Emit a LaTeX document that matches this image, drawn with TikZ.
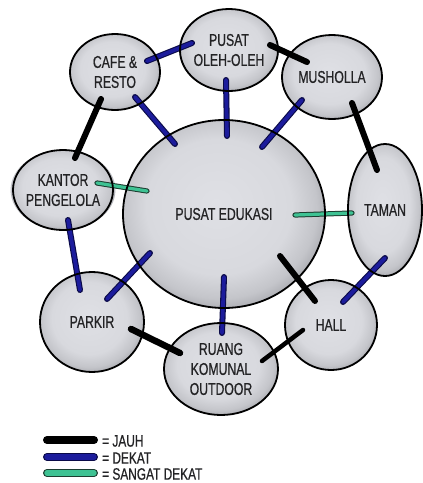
\documentclass[tikz,border=0pt]{standalone}
\usepackage{fontspec}
\setmainfont{Liberation Sans}[FakeStretch=0.72, FakeBold=0.6]
\usetikzlibrary{shapes.geometric}
\definecolor{bubA}{HTML}{DFE0E5}
\definecolor{bubB}{HTML}{D8D9DE}
\definecolor{bubC}{HTML}{C4C5CA}
\definecolor{bubD}{HTML}{9C9DA3}
\definecolor{txt}{HTML}{232325}
\definecolor{navyF}{HTML}{1C1C9C}
\definecolor{navyD}{HTML}{0A0A48}
\definecolor{greenF}{HTML}{3EC293}
\definecolor{greenD}{HTML}{1C3D30}
\pgfdeclareradialshading{bub}{\pgfpoint{-2bp}{3bp}}{color(0bp)=(bubA); color(18bp)=(bubB); color(24bp)=(bubC); color(29bp)=(bubD); color(50bp)=(bubD)}
\tikzset{
  bubble/.style={ellipse, inner sep=0pt, shading=bub, text=txt, align=center,
    font=\fontsize{17}{20}\selectfont},
  rim/.style={draw=black, line width=1.8pt},
  far/.style={draw=black, line width=6pt, line cap=round},
  near/.style={draw=navyD, double=navyF, double distance=3.8pt, line width=1.1pt, line cap=round},
  vnear/.style={draw=greenD, double=greenF, double distance=3.2pt, line width=1pt, line cap=round},
  legtext/.style={anchor=west, text=txt, inner sep=0pt, font=\fontsize{16.5}{18}\selectfont},
}
\begin{document}
\begin{tikzpicture}[x=1pt, y=-1pt]
\useasboundingbox (0,0) rectangle (423,483);
% bubbles (fills and texts)
\node[bubble, minimum width=202pt, minimum height=188pt] (edu) at (224,214) {PUSAT EDUKASI};
\node[bubble, minimum width=90pt, minimum height=76pt] (cafe) at (115,72) {CAFE \&\\RESTO};
\node[bubble, minimum width=98pt, minimum height=82pt] (oleh) at (229,50) {PUSAT\\OLEH-OLEH};
\node[bubble, minimum width=100pt, minimum height=84pt] (mush) at (332,77) {MUSHOLLA};
\node[bubble, minimum width=100pt, minimum height=80pt] (kantor) at (63,190) {KANTOR\\PENGELOLA};
\node[bubble, minimum width=74pt, minimum height=132pt] (taman) at (385,210) {TAMAN};
\node[bubble, minimum width=104pt, minimum height=100pt] (parkir) at (92,322) {PARKIR};
\node[bubble, minimum width=114pt, minimum height=92pt] (ruang) at (221,369) {RUANG\\KOMUNAL\\OUTDOOR};
\node[bubble, minimum width=92pt, minimum height=90pt] (hall) at (331,325) {HALL};
% connector end points
\coordinate (cafeO) at (147,61);   \coordinate (olehC) at (192,43);
\coordinate (olehM) at (270,45);   \coordinate (mushO) at (307,62);
\coordinate (olehE) at (226,80);   \coordinate (eduO) at (227,136);
\coordinate (cafeE) at (135,97);   \coordinate (eduC) at (175,144);
\coordinate (mushE) at (302,100);  \coordinate (eduM) at (262,147);
\coordinate (cafeK) at (101,99);   \coordinate (kantorC) at (75,158);
\coordinate (mushT) at (352,103);  \coordinate (tamanM) at (377,170);
\coordinate (kantorE) at (97,183); \coordinate (eduK) at (147,191);
\coordinate (eduT) at (295,215);   \coordinate (tamanE) at (352,213);
\coordinate (kantorP) at (68,220); \coordinate (parkirK) at (80,290);
\coordinate (eduP) at (150,253);   \coordinate (parkirE) at (107,299);
\coordinate (eduR) at (224,277);   \coordinate (ruangE) at (222,333);
\coordinate (eduH) at (280,256);   \coordinate (hallE) at (315,301);
\coordinate (tamanH) at (385,258); \coordinate (hallT) at (343,302);
\coordinate (parkirR) at (131,329);\coordinate (ruangP) at (180,353);
\coordinate (ruangH) at (262,361); \coordinate (hallR) at (303,330);
% connectors
\draw[near] (cafeO) -- (olehC);
\draw[far] (olehM) -- (mushO);
\draw[near] (olehE) -- (eduO);
\draw[near] (cafeE) -- (eduC);
\draw[near] (mushE) -- (eduM);
\draw[far] (cafeK) -- (kantorC);
\draw[far] (mushT) -- (tamanM);
\draw[vnear] (kantorE) -- (eduK);
\draw[vnear] (eduT) -- (tamanE);
\draw[near] (kantorP) -- (parkirK);
\draw[near] (eduP) -- (parkirE);
\draw[near] (eduR) -- (ruangE);
\draw[far] (eduH) -- (hallE);
\draw[near] (tamanH) -- (hallT);
\draw[far, line width=6.5pt] (parkirR) -- (ruangP);
\draw[far, line width=4.5pt] (ruangH) -- (hallR);
% outlines over the connectors
\draw[rim] (edu.center) ellipse [x radius=101, y radius=94];
\draw[rim] (cafe.center) ellipse [x radius=45, y radius=38];
\draw[rim] (oleh.center) ellipse [x radius=49, y radius=41];
\draw[rim] (mush.center) ellipse [x radius=50, y radius=42];
\draw[rim] (kantor.center) ellipse [x radius=50, y radius=40];
\draw[rim] (taman.center) ellipse [x radius=37, y radius=66];
\draw[rim] (parkir.center) ellipse [x radius=52, y radius=50];
\draw[rim] (ruang.center) ellipse [x radius=57, y radius=46];
\draw[rim] (hall.center) ellipse [x radius=46, y radius=45];
% legend
\coordinate (l1a) at (47,440); \coordinate (l1b) at (94,440);
\coordinate (l2a) at (47,457); \coordinate (l2b) at (94,457);
\coordinate (l3a) at (47,473); \coordinate (l3b) at (94,473);
\draw[far, line width=8pt] (l1a) -- (l1b);
\draw[near, double distance=5.4pt, line width=1.3pt] (l2a) -- (l2b);
\draw[vnear, double distance=5.4pt, line width=1.3pt] (l3a) -- (l3b);
\node[legtext] (t1) at (102,441) {= JAUH};
\node[legtext] (t2) at (102,458) {= DEKAT};
\node[legtext] (t3) at (102,474) {= SANGAT DEKAT};
\end{tikzpicture}
\end{document}
